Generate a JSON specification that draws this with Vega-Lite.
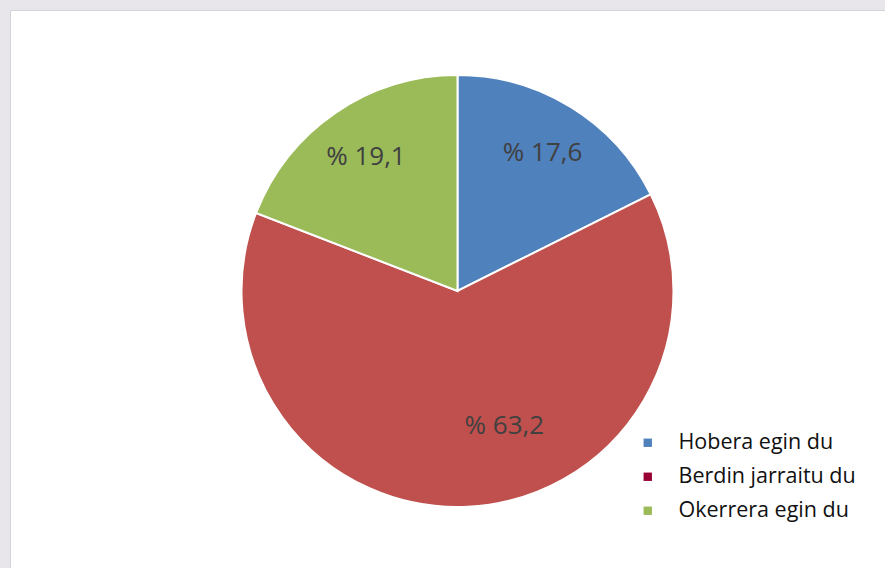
{
  "$schema": "https://vega.github.io/schema/vega-lite/v6.json",
  "width": 875,
  "height": 558,
  "padding": {"left": 10, "top": 10, "right": 0, "bottom": 0},
  "autosize": {"type": "none"},
  "background": "#e8e6eb",
  "view": {"fill": "white", "stroke": "#d4d4d8", "strokeWidth": 1},
  "data": {
    "values": [
      {"category": "Hobera egin du", "value": 17.6, "label": "% 17,6", "order": 1},
      {"category": "Berdin jarraitu du", "value": 63.2, "label": "% 63,2", "order": 2},
      {"category": "Okerrera egin du", "value": 19.1, "label": "% 19,1", "order": 3}
    ]
  },
  "encoding": {
    "theta": {"field": "value", "type": "quantitative", "stack": true},
    "order": {"field": "order", "type": "quantitative"}
  },
  "layer": [
    {
      "mark": {"type": "arc", "outerRadius": 216, "stroke": "white", "strokeWidth": 2, "xOffset": 10, "yOffset": 2},
      "encoding": {
        "color": {
          "field": "category",
          "type": "nominal",
          "scale": {
            "domain": ["Hobera egin du", "Berdin jarraitu du", "Okerrera egin du"],
            "range": ["#4F81BD", "#C0504D", "#9BBB59"]
          },
          "legend": null
        }
      }
    },
    {
      "mark": {"type": "arc", "outerRadius": 0.01, "strokeWidth": 0, "xOffset": 10, "yOffset": 2},
      "encoding": {
        "color": {
          "field": "category",
          "type": "nominal",
          "scale": {
            "domain": ["Hobera egin du", "Berdin jarraitu du", "Okerrera egin du"],
            "range": ["#4F81BD", "#990033", "#9BBB59"]
          },
          "legend": {
            "title": null,
            "orient": "none",
            "legendX": 627,
            "legendY": 422,
            "symbolType": "square",
            "symbolSize": 70,
            "symbolStrokeWidth": 0,
            "labelFont": "Open Sans",
            "labelFontSize": 21.5,
            "labelColor": "#111111",
            "labelOffset": 20,
            "rowPadding": 11,
            "labelLimit": 300
          }
        }
      }
    },
    {
      "mark": {"type": "text", "radius": 162, "xOffset": 10, "yOffset": 2, "font": "Open Sans", "fontSize": 26, "color": "#404040"},
      "encoding": {
        "text": {"field": "label"},
        "opacity": {"condition": {"test": "datum.order == 2", "value": 0}, "value": 1}
      }
    },
    {
      "mark": {"type": "text", "radius": 145, "xOffset": 50, "yOffset": -8, "font": "Open Sans", "fontSize": 26, "color": "#404040"},
      "encoding": {
        "text": {"field": "label"},
        "opacity": {"condition": {"test": "datum.order == 2", "value": 1}, "value": 0}
      }
    }
  ],
  "resolve": {"scale": {"color": "independent"}, "legend": {"color": "independent"}}
}
